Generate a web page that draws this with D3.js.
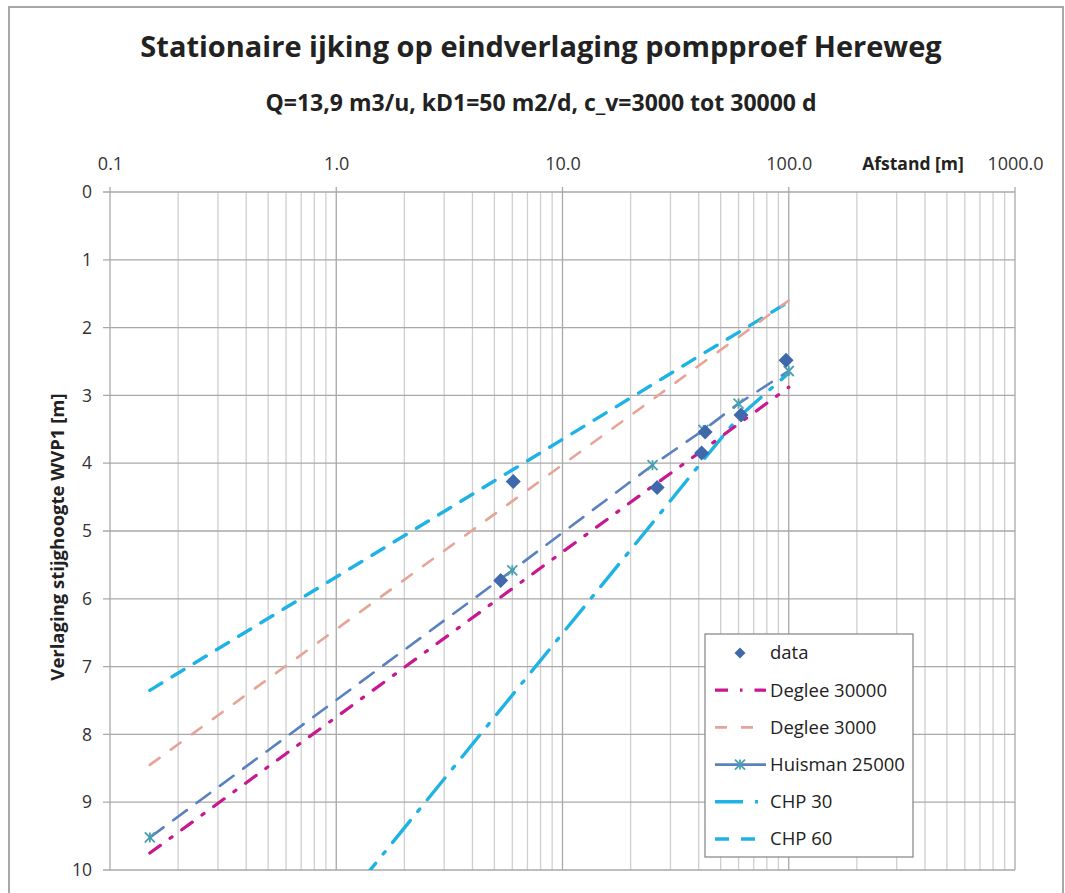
<!DOCTYPE html>
<html><head><meta charset="utf-8">
<script src="https://cdn.jsdelivr.net/npm/d3@7"></script>
<style>
html,body{margin:0;padding:0;background:#fff;}
svg{display:block;font-family:"Open Sans", Lato, sans-serif;}
</style></head>
<body>
<script>
// ---- data ----
const title = "Stationaire ijking op eindverlaging pompproef Hereweg";
const subtitle = "Q=13,9 m3/u, kD1=50 m2/d, c_v=3000 tot 30000 d";
const xTickValues = [0.1, 1, 10, 100, 1000];
const xTickLabels = ["0.1", "1.0", "10.0", "100.0", "1000.0"];
const yTickValues = [0,1,2,3,4,5,6,7,8,9,10];
const dataX = [5.33, 6.06, 26.2, 42.7, 41.2, 61.5, 97.3];
const dataY = [5.73, 4.27, 4.36, 3.54, 3.85, 3.29, 2.48];
const modelX = [0.15, 6, 25, 42, 60, 100];
const deglee30000 = [9.75, 5.85, 4.34, 3.80, 3.42, 2.88];
const deglee3000  = [8.45, 4.56, 3.06, 2.51, 2.14, 1.60];
const huisman25000 = [9.52, 5.58, 4.03, 3.51, 3.12, 2.64];
const chp30 = [14.0, 7.42, 4.88, 3.95, 3.32, 2.67];
const chp60 = [7.35, 4.10, 2.84, 2.38, 2.07, 1.62];
const seriesNames = ["data","Deglee 30000","Deglee 3000","Huisman 25000","CHP 30","CHP 60"];

const W = 1065, H = 893;
const svg = d3.select("body").append("svg").attr("width", W).attr("height", H);

// outer chart border
svg.append("path").attr("d", `M9,${H} L9,7 L${W-2},7 L${W-2},${H}`)
  .attr("fill","none").attr("stroke","#a8a8a8").attr("stroke-width",2);

const pL = 110, pR = 1015, pT = 192, pB = 870;
const x = d3.scaleLog().domain([0.1, 1000]).range([pL, pR]);
const y = d3.scaleLinear().domain([0, 10]).range([pT, pB]);

// title
svg.append("text").attr("x", 541).attr("y", 57).attr("text-anchor","middle")
  .attr("font-size", 29).attr("font-weight","bold").attr("fill","#222").text(title);
svg.append("text").attr("x", 541).attr("y", 111).attr("text-anchor","middle")
  .attr("font-size", 23).attr("font-weight","bold").attr("fill","#222").text(subtitle);

// gridlines
const minor = [];
for (let e = -1; e < 3; e++) for (let k = 2; k <= 9; k++) minor.push(k * Math.pow(10, e));
const g = svg.append("g");
g.selectAll("line.minor").data(minor).join("line")
  .attr("x1", d => x(d)).attr("x2", d => x(d)).attr("y1", pT).attr("y2", pB)
  .attr("stroke", "#cfcfcf").attr("stroke-width", 1.3);
g.selectAll("line.major").data(xTickValues).join("line")
  .attr("x1", d => x(d)).attr("x2", d => x(d)).attr("y1", pT - 5).attr("y2", pB)
  .attr("stroke", "#a9a9a9").attr("stroke-width", 1.3);
g.selectAll("line.hy").data(yTickValues).join("line")
  .attr("x1", pL - 7).attr("x2", pR).attr("y1", d => y(d)).attr("y2", d => y(d))
  .attr("stroke", "#a9a9a9").attr("stroke-width", 1.3);

// axes labels
const xAxis = d3.axisTop(x).tickValues(xTickValues).tickFormat((d,i)=>xTickLabels[i]).tickSize(0).tickPadding(22);
const xa = svg.append("g").attr("transform", `translate(0,${pT})`).call(xAxis);
xa.select(".domain").remove();
xa.selectAll("text").attr("font-size", 18).attr("fill","#333").attr("font-family","'Open Sans', sans-serif");

const yAxis = d3.axisLeft(y).tickValues(yTickValues).tickSize(0).tickPadding(18);
const ya = svg.append("g").attr("transform", `translate(${pL},0)`).call(yAxis);
ya.select(".domain").remove();
ya.selectAll("text").attr("font-size", 17.5).attr("fill","#333").attr("font-family","'Open Sans', sans-serif");

svg.append("text").attr("x", 913).attr("y", 170).attr("text-anchor","middle")
  .attr("font-size", 17.5).attr("font-weight","bold").attr("fill","#222").text("Afstand [m]");
svg.append("text").attr("transform", `translate(64,537) rotate(-90)`).attr("text-anchor","middle")
  .attr("font-size", 18.5).attr("font-weight","bold").attr("fill","#222").text("Verlaging stijghoogte WVP1 [m]");

// clip
svg.append("clipPath").attr("id","plot").append("rect")
  .attr("x", pL).attr("y", pT).attr("width", pR-pL).attr("height", pB-pT);
const plot = svg.append("g").attr("clip-path","url(#plot)");

const line = d3.line().x(d => x(d[0])).y(d => y(d[1]));
const styles = {
  "Deglee 30000": {color:"#c8178f", width:3.2, dash:"13,12,2.5,12", vals: deglee30000},
  "Deglee 3000": {color:"#e6a496", width:2.6, dash:"12,14", vals: deglee3000},
  "Huisman 25000": {color:"#5b80bf", width:2.6, dash:"17,12", vals: huisman25000},
  "CHP 30": {color:"#1eb3e4", width:3.4, dash:"28,12,3,12", vals: chp30},
  "CHP 60": {color:"#1eb3e4", width:3.4, dash:"14,12", vals: chp60}
};
const order = ["CHP 30","CHP 60","Deglee 3000","Huisman 25000","Deglee 30000"];
order.forEach(name => {
  const s = styles[name];
  plot.append("path").datum(modelX.map((xv,i)=>[xv, s.vals[i]]))
    .attr("d", line).attr("fill","none").attr("stroke", s.color)
    .attr("stroke-width", s.width).attr("stroke-dasharray", s.dash).attr("stroke-linecap","round");
});

// Huisman star markers
function star(sel, cx, cy, r, color) {
  const gg = sel.append("g").attr("stroke", color).attr("stroke-width", 1.8);
  gg.append("line").attr("x1",cx-r).attr("y1",cy-r).attr("x2",cx+r).attr("y2",cy+r);
  gg.append("line").attr("x1",cx-r).attr("y1",cy+r).attr("x2",cx+r).attr("y2",cy-r);
  gg.append("line").attr("x1",cx).attr("y1",cy-r).attr("x2",cx).attr("y2",cy+r);
}
modelX.forEach((xv,i)=> star(plot, x(xv), y(huisman25000[i]), 5, "#4a9fb0"));

// data diamonds
const diamond = (cx, cy, r) => `M${cx},${cy-r}L${cx+r},${cy}L${cx},${cy+r}L${cx-r},${cy}Z`;
plot.selectAll("path.dp").data(dataX.map((xv,i)=>[xv, dataY[i]])).join("path")
  .attr("d", d => diamond(x(d[0]), y(d[1]), 7.5)).attr("fill", "#3f69ab");

// legend
const lg = svg.append("g");
lg.append("rect").attr("x", 705).attr("y", 634).attr("width", 208).attr("height", 223)
  .attr("fill","#fff").attr("stroke","#8c8c8c").attr("stroke-width",1.3);
const ly0 = 653, ldy = 37.2;
seriesNames.forEach((name, i) => {
  const cy = ly0 + i * ldy;
  if (name === "data") {
    lg.append("path").attr("d", diamond(740, cy, 5.5)).attr("fill","#3f69ab");
  } else {
    const s = styles[name];
    lg.append("line").attr("x1", 715).attr("x2", 766).attr("y1", cy).attr("y2", cy)
      .attr("stroke", s.color).attr("stroke-width", s.width)
      .attr("stroke-dasharray", name === "Huisman 25000" ? null : s.dash);
    if (name === "Huisman 25000") star(lg, 740, cy, 5, "#4a9fb0");
  }
  lg.append("text").attr("x", 770).attr("y", cy).attr("dy","0.35em")
    .attr("font-size", 18.5).attr("fill","#222").text(name);
});
</script>
</body></html>
